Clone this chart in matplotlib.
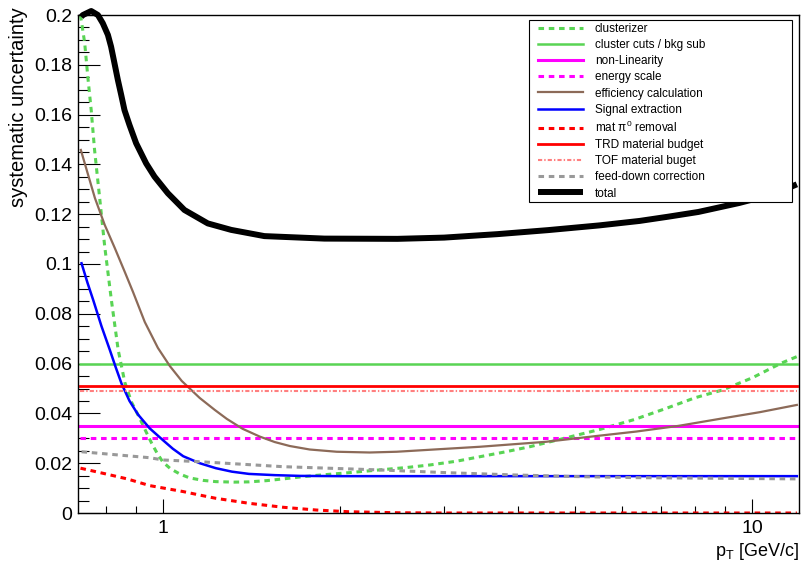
import matplotlib
matplotlib.use("Agg")
import numpy as np
import matplotlib.pyplot as plt
from matplotlib.ticker import FixedLocator, NullFormatter, FuncFormatter
from matplotlib.patches import Rectangle

plt.rcParams['font.family'] = ['Liberation Sans', 'DejaVu Sans']
plt.rcParams['mathtext.fontset'] = 'custom'
plt.rcParams['mathtext.rm'] = 'Liberation Sans'
plt.rcParams['mathtext.it'] = 'Liberation Sans:italic'
plt.rcParams['lines.scale_dashes'] = False

# ---- systematic uncertainty components vs pT ----
pt_flat = [0.725, 11.9]

clusterizer_pt = [0.725, 0.737, 0.746, 0.756, 0.766, 0.781, 0.797, 0.818, 0.84, 0.862,
                  0.885, 0.914, 0.935, 0.957, 0.978, 1.0, 1.03, 1.07, 1.11, 1.17, 1.23,
                  1.32, 1.40, 1.5, 1.6, 1.7, 1.82, 2.07, 2.33, 2.6, 2.84, 3.15, 3.45, 3.8,
                  4.19, 4.76, 5.5, 6.3, 7.14, 8.0, 8.9, 10.0, 11.2, 11.9]
clusterizer = [0.200, 0.1888, 0.1752, 0.1618, 0.1458, 0.127, 0.107, 0.0855, 0.0655, 0.0525,
               0.0445, 0.0380, 0.0330, 0.0281, 0.0240, 0.0205, 0.0178, 0.0156, 0.0141, 0.0131, 0.0126,
               0.0124, 0.0125, 0.0130, 0.0137, 0.0144, 0.0151, 0.0162, 0.0173, 0.0183, 0.0193, 0.0208, 0.0226, 0.0245,
               0.0266, 0.0298, 0.0335, 0.0375, 0.042, 0.0463, 0.0494, 0.0543, 0.0602, 0.0628]

cluster_cuts = [0.060, 0.060]
non_linearity = [0.035, 0.035]
energy_scale = [0.030, 0.030]

efficiency_pt = [0.726, 0.767, 0.797, 0.829, 0.862, 0.890, 0.932, 0.981, 1.028, 1.077, 1.155,
                 1.225, 1.284, 1.366, 1.460, 1.548, 1.642, 1.775, 1.972, 2.243, 2.493,
                 3.45, 4.47, 5.43, 6.35, 7.5, 8.9, 10.3, 11.9]
efficiency = [0.1458, 0.1265, 0.1157, 0.1064, 0.0968, 0.0888, 0.0767, 0.0663, 0.0590, 0.0530, 0.0462,
              0.0414, 0.0378, 0.0338, 0.0307, 0.0285, 0.0269, 0.0255, 0.0246, 0.0243, 0.0246,
              0.0266, 0.0286, 0.0309, 0.0327, 0.0350, 0.0380, 0.0405, 0.0434]

signal_pt = [0.728, 0.745, 0.762, 0.787, 0.813, 0.832, 0.851, 0.878, 0.908, 0.95, 1.0, 1.04,
             1.083, 1.155, 1.23, 1.31, 1.40, 1.55, 1.71, 2.0, 11.9]
signal = [0.1003, 0.0925, 0.0855, 0.0750, 0.0655, 0.0585, 0.0520, 0.0450, 0.0395, 0.0340, 0.0293, 0.0258,
          0.0228, 0.0200, 0.0180, 0.0166, 0.0157, 0.0152, 0.0149, 0.0148, 0.0148]

mat_pi0_pt = [0.725, 0.80, 0.87, 0.95, 1.083, 1.155, 1.23, 1.40, 1.60, 1.82, 2.07, 2.5, 3.0, 11.9]
mat_pi0 = [0.018, 0.0157, 0.0137, 0.0110, 0.0086, 0.0072, 0.0059, 0.0039, 0.0023, 0.0012, 0.0005, 0.0001, 0.0, 0.0]

trd_material = [0.051, 0.051]
tof_material = [0.049, 0.049]

feed_down_pt = [0.728, 0.95, 1.0, 1.155, 1.6, 2.33, 3.03, 3.92, 5.1, 6.35, 11.9]
feed_down = [0.0246, 0.0222, 0.0213, 0.0206, 0.0186, 0.0173, 0.0162, 0.0153, 0.0146, 0.0142, 0.0137]

total_pt = [0.727, 0.732, 0.756, 0.776, 0.791, 0.807, 0.817, 0.828, 0.839, 0.850, 0.861, 0.878,
            0.901, 0.937, 0.968, 1.020, 1.088, 1.192, 1.306, 1.487, 1.880, 2.5, 3.0, 3.7, 4.5,
            5.5, 6.44, 7.2, 8.1, 9.5, 10.5, 11.5, 11.9]
total = [0.1993, 0.2000, 0.2016, 0.2000, 0.1967, 0.1920, 0.1873, 0.1806, 0.1739, 0.1679, 0.1618, 0.1558,
         0.1485, 0.1404, 0.1351, 0.1284, 0.1217, 0.1163, 0.1137, 0.1112, 0.1102, 0.1101, 0.1106, 0.1120, 0.1136,
         0.1155, 0.1173, 0.1190, 0.1209, 0.1245, 0.1272, 0.1305, 0.1320]

labels = ["clusterizer", "cluster cuts / bkg sub", "non-Linearity", "energy scale",
          "efficiency calculation", "Signal extraction", r"mat $\mathregular{\pi^{0}}$ removal",
          "TRD material budget", "TOF material buget", "feed-down correction", "total"]

x_major = [1, 10]
x_minor = [0.8, 0.9, 2, 3, 4, 5, 6, 7, 8, 9]

fig = plt.figure(figsize=(8.05, 5.69), dpi=100)
ax = fig.add_axes([78 / 805, 56 / 569, 721 / 805, 498 / 569])

dash = (0, (4.0, 3.4))
green = "#59d454"

ax.plot(clusterizer_pt, clusterizer, color=green, lw=2.2, linestyle=dash, label=labels[0])
ax.plot(pt_flat, cluster_cuts, color=green, lw=1.8, label=labels[1])
ax.plot(pt_flat, non_linearity, color="#ff00ff", lw=2.2, label=labels[2])
ax.plot(pt_flat, energy_scale, color="#ff00ff", lw=2.2, linestyle=dash, label=labels[3])
ax.plot(efficiency_pt, efficiency, color="#8c6a58", lw=1.6, label=labels[4])
ax.plot(signal_pt, signal, color="#0000ff", lw=1.8, label=labels[5])
ax.plot(mat_pi0_pt, mat_pi0, color="#ff0000", lw=2.2, linestyle=dash, label=labels[6])
ax.plot(pt_flat, trd_material, color="#ff0000", lw=2.0, label=labels[7])
ax.plot(pt_flat, tof_material, color="#ff7f7f", lw=1.5,
        linestyle=(0, (3.0, 1.5, 1.0, 1.5)), label=labels[8])
ax.plot(feed_down_pt, feed_down, color="#999999", lw=2.2, linestyle=dash, label=labels[9])
ax.plot(total_pt, total, color="black", lw=4.3, label=labels[10], clip_on=False,
        solid_capstyle="butt", solid_joinstyle="round", zorder=5)

ax.set_xscale("log")
ax.set_xlim(0.718, 12.0)
ax.set_ylim(0, 0.2)

ax.xaxis.set_major_locator(FixedLocator(x_major))
ax.xaxis.set_minor_locator(FixedLocator(x_minor))
ax.xaxis.set_major_formatter(FuncFormatter(lambda v, p: f"{v:g}"))
ax.xaxis.set_minor_formatter(NullFormatter())
ax.yaxis.set_major_locator(FixedLocator(np.round(np.arange(0, 0.2001, 0.02), 3)))
ax.yaxis.set_minor_locator(FixedLocator(np.round(np.arange(0, 0.2001, 0.005), 3)))
ax.yaxis.set_major_formatter(FuncFormatter(lambda v, p: f"{v:g}"))

ax.tick_params(axis="both", which="both", direction="in", top=False, right=False,
               labelsize=14, width=0.8, color="black")
ax.tick_params(axis="y", which="major", length=15.8, pad=4)
ax.tick_params(axis="y", which="minor", length=7.9)
ax.tick_params(axis="x", which="major", length=10, pad=5)
ax.tick_params(axis="x", which="minor", length=5)
for s in ax.spines.values():
    s.set_linewidth(1.0)

ax.set_xlabel(r"p$_{\mathregular{T}}$ [GeV/c]", fontsize=13, loc="right")
ax.xaxis.set_label_coords(1.0, -28 / 498)
ax.set_ylabel("systematic uncertainty", fontsize=14.5, loc="top")
ax.yaxis.set_label_coords(-50 / 721, 1.0 + 8 / 498)

# legend box
fig.patches.append(Rectangle((529 / 805, (569 - 202) / 569), 263 / 805, 182 / 569,
                             transform=fig.transFigure, facecolor="white",
                             edgecolor="black", linewidth=0.8, zorder=10))
leg = ax.legend(loc="upper left", bbox_to_anchor=(538 / 805, (569 - 23) / 569),
                bbox_transform=fig.transFigure, frameon=False, fontsize=8.5,
                handlelength=3.8, handletextpad=1.0, labelspacing=0.35,
                borderpad=0, borderaxespad=0)
leg.set_zorder(20)
leg.remove()
fig.legends.append(leg)
leg.set_figure(fig)

fig.savefig("out.png", dpi=100, facecolor="white")
